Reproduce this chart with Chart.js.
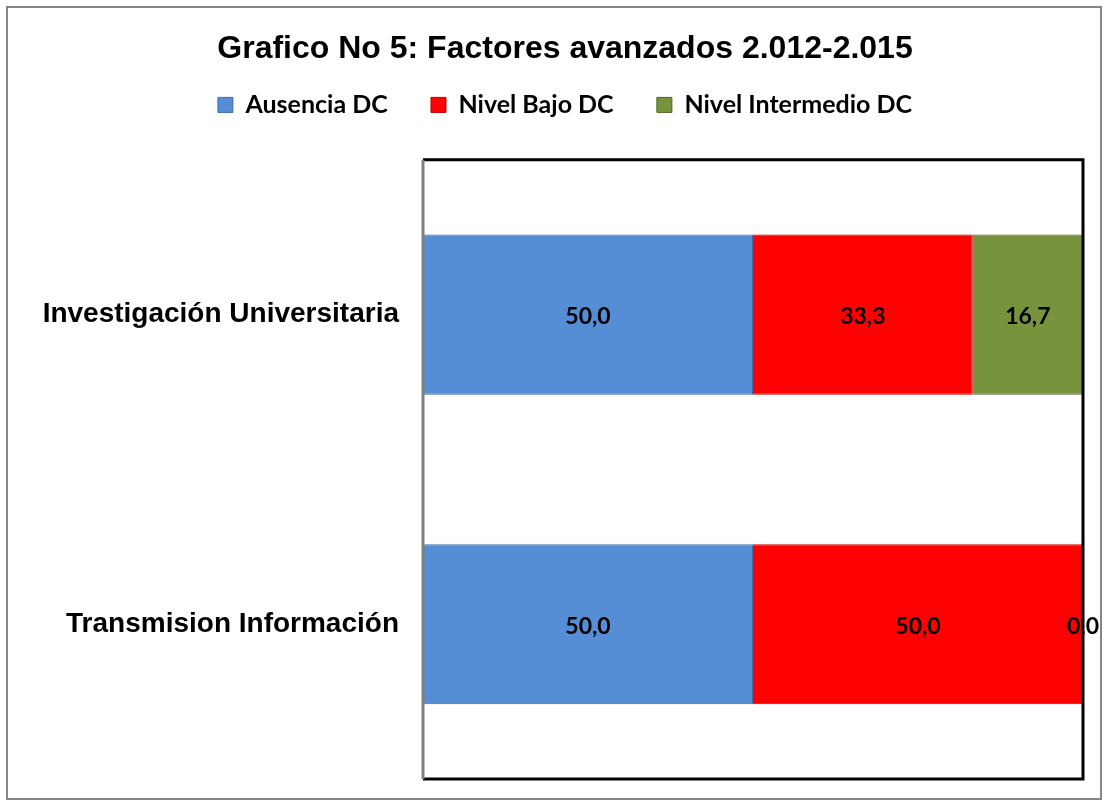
<!DOCTYPE html>
<html>
<head>
<meta charset="utf-8">
<script src="https://cdn.jsdelivr.net/npm/chart.js@4"></script>
<style>
  html, body { margin: 0; padding: 0; background: #fff; }
  #frame {
    position: absolute; left: 6px; top: 6px; width: 1092px; height: 790px;
    border: 2px solid #868686;
  }
  #myChart { position: absolute; left: 0; top: 0; }
</style>
</head>
<body>
<div id="frame"></div>
<canvas id="myChart" width="1109" height="802"></canvas>
<script>
var categories = ['Investigación Universitaria', 'Transmision Información'];
var ausencia = [50.0, 50.0];
var nivelBajo = [33.3, 50.0];
var nivelIntermedio = [16.7, 0.0];
var seriesNames = ['Ausencia DC', 'Nivel Bajo DC', 'Nivel Intermedio DC'];

// draws the value in the middle of every bar segment
var valueLabels = {
    id: 'valueLabels',
    afterDatasetsDraw: function(chart) {
        var ctx = chart.ctx;
        ctx.save();
        ctx.font = 'bold 23px Lato';
        ctx.fillStyle = '#000';
        ctx.textAlign = 'center';
        ctx.textBaseline = 'middle';
        chart.data.datasets.forEach(function(ds, i) {
            var meta = chart.getDatasetMeta(i);
            meta.data.forEach(function(bar, j) {
                var x = (bar.x + bar.base) / 2;
                ctx.fillText(ds.data[j].toFixed(1).replace('.', ','), x, bar.y + 2);
            });
        });
        ctx.restore();
    }
};

// plot area frame: grey on the left, black elsewhere
var plotFrame = {
    id: 'plotFrame',
    afterLayout: function(chart) {
        // let the long category labels use the space left of the padding
        chart.scales.y.left = 0;
    },
    afterDraw: function(chart) {
        var a = chart.chartArea;
        var ctx = chart.ctx;
        ctx.save();
        ctx.lineWidth = 3;
        ctx.strokeStyle = '#000';
        ctx.beginPath();
        ctx.moveTo(a.left, a.top);
        ctx.lineTo(a.right, a.top);
        ctx.lineTo(a.right, a.bottom);
        ctx.lineTo(a.left, a.bottom);
        ctx.stroke();
        ctx.strokeStyle = '#808080';
        ctx.beginPath();
        ctx.moveTo(a.left, a.top);
        ctx.lineTo(a.left, a.bottom);
        ctx.stroke();
        ctx.restore();
    }
};

var ctx = document.getElementById('myChart').getContext('2d');
var myChart = new Chart(ctx, {
    type: 'bar',
    data: {
        labels: categories,
        datasets: [{
            label: seriesNames[0],
            data: ausencia,
            backgroundColor: '#558ED5',
            borderColor: '#3F6CA6',
            borderWidth: 1
        }, {
            label: seriesNames[1],
            data: nivelBajo,
            backgroundColor: '#FF0000',
            borderColor: '#C00000',
            borderWidth: 1
        }, {
            label: seriesNames[2],
            data: nivelIntermedio,
            backgroundColor: '#77933C',
            borderColor: '#4F6228',
            borderWidth: 1
        }]
    },
    options: {
        indexAxis: 'y',
        responsive: false,
        animation: false,
        maintainAspectRatio: false,
        layout: { padding: { top: 0, right: 26, bottom: 23, left: 47 } },
        datasets: { bar: { categoryPercentage: 1, barPercentage: 0.517 } },
        scales: {
            x: {
                stacked: true, min: 0, max: 100,
                position: 'top',
                grid: { display: false, drawTicks: false },
                border: { display: false },
                ticks: { display: false },
                // empty title only used as a spacer between legend and plot
                title: { display: true, text: '', font: { size: 12 }, padding: { top: 0, bottom: 18 } }
            },
            y: {
                stacked: true,
                grid: { display: false, drawTicks: false },
                border: { display: false },
                ticks: {
                    padding: 24,
                    color: '#000',
                    font: { family: 'Liberation Sans', size: 28, weight: 'bold' }
                },
                afterFit: function(scale) {
                    scale.width = 376;
                    scale.paddingTop = 0;
                    scale.paddingBottom = 0;
                }
            }
        },
        plugins: {
            title: {
                display: true,
                text: 'Grafico No 5: Factores avanzados 2.012-2.015',
                color: '#000',
                font: { family: 'Liberation Sans', size: 32, weight: 'bold' },
                padding: { top: 30, bottom: 12 }
            },
            legend: {
                position: 'top',
                labels: {
                    color: '#000',
                    boxWidth: 15,
                    boxHeight: 15,
                    padding: 12,
                    font: { family: 'Lato', size: 25, weight: 'bold' },
                    generateLabels: function(chart) {
                        var items = Chart.defaults.plugins.legend.labels.generateLabels(chart);
                        items.forEach(function(item, i) {
                            if (i < items.length - 1) item.text = item.text + '\u2003\u2002';
                        });
                        return items;
                    }
                }
            },
            tooltip: { enabled: false }
        }
    },
    plugins: [valueLabels, plotFrame]
});
</script>
</body>
</html>
